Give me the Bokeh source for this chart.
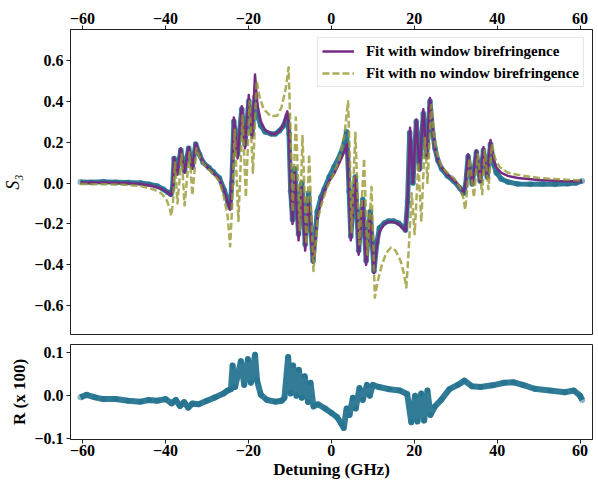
from bokeh.plotting import figure
from bokeh.models import Range1d, FixedTicker, CustomJSTickFormatter
from bokeh.layouts import column
from bokeh.embed import file_html
from bokeh.resources import INLINE

# ---------------- data ----------------
x_ticks = [-60, -40, -20, 0, 20, 40, 60]
s3_ticks = [-0.6, -0.4, -0.2, 0.0, 0.2, 0.4, 0.6]
r_ticks = [-0.1, 0.0, 0.1]

fit_label = "Fit with window birefringence"
nofit_label = "Fit with no window birefringence"

# measured S3 (data points)
x_data = [-60.5, -58, -55, -52, -49, -46, -44, -42, -40.5, -39.5, -38.7, -38.3, -37.9, -37.2,
          -36.3, -35.4, -34.4, -33.5, -32.7, -31.8, -30.9, -29.5, -28.5, -27.0, -25.8, -24.9,
          -24.4, -24.0, -23.5, -22.6, -21.6, -20.8, -19.9, -19.1, -18.4, -17.8, -17.0, -16.0,
          -14.5, -13.5, -12.5, -11.5, -10.6, -10.2, -9.8, -9.35, -8.8, -7.9, -7.1, -6.3, -5.5,
          -4.4, -3.4, -2.5, -1.7, -0.5, 0.7, 2.2, 3.2, 3.7, 4.3, 4.7, 5.8, 6.6, 7.6, 8.4, 9.4,
          10.3, 11.0, 11.6, 12.8, 13.8, 15.0, 16.2, 17.3, 17.9, 18.4, 18.9, 19.7, 20.5, 21.3,
          22.2, 23.0, 23.8, 24.5, 25.0, 25.7, 26.6, 28.0, 29.5, 31.0, 31.9, 32.4, 33.0, 34.0,
          35.0, 35.9, 36.7, 37.6, 38.4, 39.2, 39.8, 41.0, 42.6, 45, 48, 51, 54, 57, 59, 60.5]
s3_data = [0.005, 0.004, 0.006, 0.004, 0.003, 0.0, -0.006, -0.014, -0.03, -0.045, -0.055, -0.03,
           0.12, 0.05, 0.16, 0.06, 0.17, 0.08, 0.19, 0.14, 0.10, 0.075, 0.055, 0.025, -0.035,
           -0.095, -0.12, 0.0, 0.30, 0.14, 0.36, 0.19, 0.40, 0.24, 0.42, 0.33, 0.28, 0.25,
           0.24, 0.24, 0.255, 0.28, 0.33, 0.24, -0.04, -0.18, 0.07, -0.25, 0.0, -0.30, -0.05,
           -0.38, -0.14, -0.07, -0.03, 0.03, 0.08, 0.14, 0.20, 0.25, -0.04, -0.26, 0.03, -0.33,
           -0.08, -0.38, -0.14, -0.43, -0.29, -0.22, -0.195, -0.185, -0.185, -0.195, -0.215,
           -0.23, -0.09, 0.245, 0.0, 0.30, 0.07, 0.34, 0.13, 0.40, 0.24, 0.17, 0.11, 0.07, 0.035,
           0.01, -0.025, -0.05, -0.01, 0.13, -0.005, 0.15, 0.01, 0.16, 0.03, 0.19, 0.09, 0.05,
           0.02, 0.005, -0.005, -0.006, -0.005, -0.006, -0.004, 0.0, 0.01]

# fit with window birefringence
x_fit = [-60.5, -55, -50, -46, -43, -41, -39.5, -38.7, -38.3, -37.9, -37.2, -36.3, -35.4, -34.4,
         -33.5, -32.7, -31.8, -30.9, -29.5, -28.5, -27.0, -25.8, -24.9, -24.4, -24.0, -23.5,
         -22.6, -21.6, -20.8, -19.9, -19.1, -18.4, -17.8, -17.0, -16.0, -14.5, -13.5, -12.5,
         -11.5, -10.6, -10.2, -9.8, -9.35, -8.8, -7.9, -7.1, -6.3, -5.5, -4.4, -3.4, -2.5,
         -1.7, -0.5, 0.7, 2.2, 3.2, 3.8, 4.3, 4.7, 5.8, 6.6, 7.6, 8.4, 9.4, 10.3, 11.0, 11.6,
         12.8, 13.8, 15.0, 16.2, 17.3, 17.9, 18.4, 19.0, 19.7, 20.5, 21.3, 22.2, 23.0, 23.8,
         24.5, 25.0, 25.7, 26.6, 28.0, 29.5, 31.0, 31.9, 32.4, 33.0, 34.0, 35.0, 35.9, 36.7,
         37.6, 38.4, 39.2, 39.8, 41.0, 42.6, 45, 50, 55, 60.5]
s3_fit = [0.003, 0.002, 0.0, -0.005, -0.015, -0.028, -0.045, -0.06, -0.03, 0.125, 0.04, 0.17,
          0.05, 0.175, 0.07, 0.195, 0.14, 0.10, 0.07, 0.05, 0.02, -0.04, -0.10, -0.13, 0.0,
          0.32, 0.12, 0.375, 0.17, 0.43, 0.22, 0.53, 0.38, 0.30, 0.26, 0.24, 0.24, 0.255,
          0.285, 0.35, 0.25, -0.05, -0.20, 0.05, -0.28, -0.02, -0.33, -0.08, -0.39, -0.17,
          -0.09, -0.04, 0.01, 0.045, 0.11, 0.155, 0.19, -0.05, -0.28, 0.03, -0.35, -0.09,
          -0.40, -0.15, -0.44, -0.30, -0.24, -0.20, -0.19, -0.19, -0.20, -0.22, -0.235, -0.10,
          0.27, 0.0, 0.31, 0.06, 0.36, 0.12, 0.415, 0.25, 0.17, 0.11, 0.075, 0.04, 0.015,
          -0.02, -0.045, 0.0, 0.14, -0.01, 0.16, 0.005, 0.175, 0.025, 0.21, 0.11, 0.075, 0.05,
          0.035, 0.025, 0.015, 0.01, 0.008]

# fit with no window birefringence
x_nofit = [-60.5, -55, -50, -46, -43, -41, -39.8, -39.0, -38.6, -38.2, -37.7, -37.1, -36.1,
           -35.4, -34.2, -33.5, -32.5, -31.8, -30.9, -29.5, -28.5, -27.0, -26.0, -25.0, -24.4,
           -24.0, -23.3, -22.4, -21.4, -20.6, -19.7, -18.9, -18.0, -17.3, -16.3, -14.5, -13.0,
           -12.0, -11.0, -10.3, -9.9, -9.3, -8.55, -7.6, -6.95, -6.0, -5.35, -4.3, -3.4, -2.3,
           -1.0, 0.5, 2.0, 3.2, 4.05, 4.5, 4.9, 5.8, 6.8, 7.9, 8.7, 9.7, 10.5, 11.2, 12.2,
           13.3, 14.4, 15.5, 16.7, 17.5, 18.1, 18.6, 19.4, 20.1, 21.0, 21.7, 22.6, 23.2, 24.1,
           24.8, 25.4, 26.6, 28.0, 29.5, 31.0, 31.8, 32.3, 32.7, 33.3, 34.4, 35.3, 36.4, 37.0,
           37.9, 38.7, 39.5, 40.5, 42.6, 45, 50, 55, 60.5]
s3_nofit = [-0.005, -0.006, -0.008, -0.015, -0.03, -0.05, -0.08, -0.12, -0.16, -0.10, 0.10,
            -0.10, 0.14, -0.11, 0.15, -0.06, 0.17, 0.13, 0.095, 0.065, 0.045, 0.01, -0.06,
            -0.16, -0.31, -0.15, 0.26, -0.185, 0.33, -0.07, 0.40, 0.05, 0.50, 0.42, 0.36,
            0.325, 0.33, 0.37, 0.46, 0.565, 0.30, -0.14, 0.32, -0.23, 0.23, -0.30, 0.14, -0.43,
            -0.19, -0.10, -0.02, 0.04, 0.12, 0.24, 0.40, 0.10, -0.24, 0.245, -0.30, 0.12,
            -0.35, -0.02, -0.56, -0.48, -0.40, -0.34, -0.315, -0.33, -0.38, -0.44, -0.51,
            -0.35, -0.05, -0.25, 0.10, -0.19, 0.22, 0.00, 0.38, 0.22, 0.15, 0.08, 0.05, 0.025,
            -0.02, -0.07, -0.13, -0.05, 0.12, -0.07, 0.14, -0.055, 0.16, -0.03, 0.19, 0.12,
            0.08, 0.05, 0.04, 0.025, 0.018, 0.012]

# residuals (x 100)
x_res = [-60.5, -59, -57, -55, -52, -49, -46, -44, -42, -40, -38.5, -37.5, -36.5, -35.5, -34.5,
         -33.5, -32, -30, -28, -26, -25, -24.2, -23.8, -23.2, -21.8, -21.0, -20.1, -19.4,
         -18.4, -17.9, -17.0, -15.5, -13.5, -12, -11.3, -10.4, -9.8, -9.2, -8.4, -7.8, -7.1,
         -6.4, -5.6, -5.0, -4.3, -3.2, -1.5, 0.0, 1.4, 2.4, 3.0, 3.7, 4.4, 5.2, 5.9, 6.8, 7.6,
         8.6, 9.3, 10.0, 11.5, 14, 16.5, 18.3, 19.3, 20.2, 20.8, 21.7, 22.4, 23.2, 23.9, 25,
         26.5, 28.5, 30.5, 32.1, 33.9, 36, 38.9, 41.7, 44, 46.2, 49, 52.7, 56.3, 58.5, 60.0,
         60.5]
r_res = [-0.004, 0.002, -0.004, -0.008, -0.008, -0.012, -0.014, -0.01, -0.012, -0.008, -0.018,
         -0.01, -0.024, -0.015, -0.028, -0.018, -0.02, -0.012, -0.004, 0.005, 0.012, 0.015,
         0.07, 0.02, 0.08, 0.025, 0.085, 0.03, 0.095, 0.035, 0.002, -0.01, -0.014, -0.012,
         -0.005, 0.09, 0.005, 0.07, 0.0, 0.06, -0.005, 0.045, -0.015, 0.03, -0.025, -0.02,
         -0.03, -0.04, -0.05, -0.065, -0.075, -0.03, -0.045, -0.005, -0.03, 0.018, -0.01,
         0.025, 0.0, 0.025, 0.02, 0.015, 0.012, 0.004, -0.062, 0.0, -0.06, 0.005, -0.058,
         0.012, -0.045, -0.025, -0.01, 0.015, 0.025, 0.035, 0.022, 0.02, 0.024, 0.03, 0.031,
         0.025, 0.016, 0.012, 0.008, 0.012, 0.0, -0.01]

# ---------------- styling ----------------
DATA_C = "#1c6e8c"
FIT_C = "#762a83"
NOFIT_C = "#999933"
FONT = "Liberation Serif"
WIDTH = 598

x_range = Range1d(-62.9, 63.0)

fmt1 = CustomJSTickFormatter(code="return (tick < -1e-9 ? '\u2212' : '') + Math.abs(tick).toFixed(1);")
fmt0 = CustomJSTickFormatter(code="return (tick < -1e-9 ? '\u2212' : '') + Math.abs(tick).toFixed(0);")


def style_axis(ax):
    ax.major_label_text_font = FONT
    ax.major_label_text_font_style = "bold"
    ax.major_label_text_font_size = "16px"
    ax.major_label_text_color = "black"
    ax.major_tick_out = 4
    ax.major_tick_in = 0
    ax.minor_tick_out = 0
    ax.minor_tick_in = 0
    ax.major_label_standoff = 2
    ax.axis_line_color = "#222222"
    ax.major_tick_line_color = "#222222"
    ax.axis_label_text_font = FONT
    ax.axis_label_text_font_size = "17px"
    ax.axis_label_text_color = "black"
    ax.axis_label_standoff = 2


# ---------------- main panel ----------------
p1 = figure(width=WIDTH, height=339, x_range=x_range, y_range=Range1d(-0.74, 0.75),
            output_backend="svg", toolbar_location=None, x_axis_location="above",
            min_border_left=67, min_border_right=6, min_border_top=29, min_border_bottom=5)
p1.grid.visible = False
p1.outline_line_color = "#222222"
p1.outline_line_width = 1
p1.background_fill_color = "white"
p1.border_fill_color = "white"

p1.line(x_data, s3_data, line_color=DATA_C, line_width=5, line_alpha=0.9, line_join="round")
p1.scatter(x_data, s3_data, size=6, fill_color=DATA_C, fill_alpha=0.5, line_color=None)
p1.line(x_fit, s3_fit, line_color=FIT_C, line_width=2.5, line_join="round",
        legend_label=fit_label)
p1.line(x_nofit, s3_nofit, line_color=NOFIT_C, line_alpha=0.8, line_width=2.5,
        line_dash="7 3", line_join="round", legend_label=nofit_label)

p1.xaxis.ticker = FixedTicker(ticks=x_ticks)
p1.xaxis.formatter = fmt0
p1.yaxis.ticker = FixedTicker(ticks=s3_ticks)
p1.yaxis.formatter = fmt1
p1.yaxis.axis_label = "S\u2083"
for ax in p1.xaxis + p1.yaxis:
    style_axis(ax)
p1.yaxis.axis_label_text_font_style = "italic"
p1.yaxis.axis_label_text_font_size = "18px"
p1.yaxis.major_label_standoff = 3
p1.yaxis.axis_label_standoff = 8

lg = p1.legend[0]
lg.location = "top_right"
lg.margin = 8
lg.padding = 4
lg.spacing = 4
lg.glyph_width = 32
lg.glyph_height = 18
lg.label_standoff = 12
lg.label_text_font = FONT
lg.label_text_font_style = "bold"
lg.label_text_font_size = "15px"
lg.label_text_color = "black"
lg.border_line_color = "#cccccc"
lg.border_line_width = 1
lg.background_fill_alpha = 0.85

# ---------------- residual panel ----------------
p2 = figure(width=WIDTH, height=147, x_range=x_range, y_range=Range1d(-0.102, 0.119),
            output_backend="svg", toolbar_location=None,
            min_border_left=67, min_border_right=6, min_border_top=5, min_border_bottom=47)
p2.grid.visible = False
p2.outline_line_color = "#222222"
p2.outline_line_width = 1

p2.line(x_res, r_res, line_color=DATA_C, line_width=6, line_alpha=0.9, line_join="round")
p2.scatter(x_res, r_res, size=6, fill_color=DATA_C, fill_alpha=0.5, line_color=None)

p2.xaxis.ticker = FixedTicker(ticks=x_ticks)
p2.xaxis.formatter = fmt0
p2.yaxis.ticker = FixedTicker(ticks=r_ticks)
p2.yaxis.formatter = fmt1
p2.xaxis.axis_label = "Detuning (GHz)"
p2.yaxis.axis_label = "R (x 100)"
for ax in p2.xaxis + p2.yaxis:
    style_axis(ax)
    ax.axis_label_text_font_style = "bold"
p2.yaxis.major_label_standoff = 3
p2.xaxis.major_label_standoff = 1
p2.xaxis.axis_label_standoff = 1

layout = column(p1, p2, spacing=0)
open("out.html", "w").write(file_html(layout, INLINE))
